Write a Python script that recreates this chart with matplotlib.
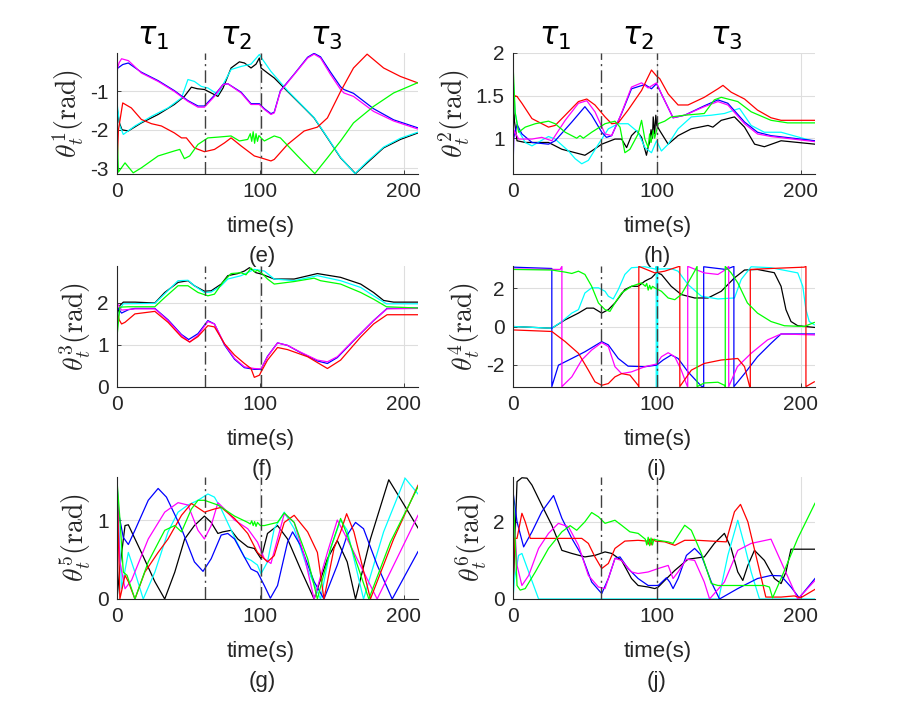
import matplotlib
matplotlib.use('Agg')
import matplotlib.pyplot as plt
import matplotlib.transforms as mtransforms

plt.rcParams['font.family'] = ['Liberation Sans', 'DejaVu Sans']
plt.rcParams['mathtext.fontset'] = 'cm'
plt.rcParams['axes.unicode_minus'] = False

# ---------------- data: (time, angle) pairs ----------------
# (e) theta^1
E_K = [(0,-1.4),(1.5,-1.8),(3.5,-2.0),(7.9,-2.03),(17,-1.82),(28.7,-1.6),(40,-1.34),(47,-1.13),(51.9,-0.89),(56,-0.93),(61,-0.95),(65.7,-1.04),(70.4,-1.13),(74,-0.91),(79.6,-0.39),(85.4,-0.23),(88.9,-0.26),(93.5,-0.39),(97,-0.29),(99.3,-0.13),(100.5,-0.39),(105,-0.52),(109.7,-0.65),(119,-1.0),(130.6,-1.43),(137.5,-1.69),(146.8,-2.21),(156,-2.73),(166.4,-3.14),(174.5,-2.86),(186,-2.47),(197.7,-2.25),(210,-2.08)]
E_C = [(0,-1.3),(2,-1.9),(4.4,-2.12),(12.5,-1.9),(24,-1.65),(35.6,-1.43),(45,-1.17),(49.5,-0.69),(54,-0.74),(58.8,-0.87),(63.4,-0.91),(70.4,-1.08),(74,-0.82),(79.6,-0.43),(86.6,-0.35),(93.5,-0.29),(99.3,-0.04),(101.6,-0.17),(107.4,-0.48),(119,-0.98),(130.6,-1.42),(137.5,-1.68),(146.8,-2.2),(156,-2.72),(166,-3.14),(174.5,-2.83),(186,-2.45),(197.7,-2.22),(210,-2.06)]
E_B = [(0,-1.1),(0.3,-0.4),(4,-0.3),(7.9,-0.26),(17,-0.5),(28.7,-0.72),(40,-0.98),(49.5,-1.24),(56.5,-1.38),(61,-1.38),(68,-1.1),(74,-0.82),(77.3,-0.8),(86.6,-1.02),(93.5,-1.32),(99.3,-1.32),(102.8,-1.45),(107.4,-1.58),(109.7,-1.54),(114,-0.98),(123.6,-0.55),(133,-0.11),(137.5,-0.01),(142,-0.1),(149,-0.5),(156,-0.88),(158.3,-0.95),(165,-1.05),(179,-1.45),(193,-1.74),(210,-1.95)]
E_M = [(0,-0.45),(1.5,-0.25),(3.2,-0.15),(8,-0.2),(17,-0.52),(28.7,-0.74),(40,-1.0),(49.5,-1.26),(56.5,-1.41),(61,-1.41),(68,-1.13),(74,-0.82),(77.3,-0.8),(86.6,-1.04),(93.5,-1.34),(99.3,-1.34),(102.8,-1.47),(107.4,-1.6),(109.7,-1.56),(114,-1.0),(123.6,-0.56),(133,-0.13),(137.5,-0.03),(142,-0.13),(149,-0.56),(156,-0.95),(158.3,-1.04),(165,-1.13),(179,-1.52),(193,-1.77),(210,-1.98)]
E_R = [(0,-3.0),(1,-2.0),(4,-1.3),(10,-1.43),(17,-1.73),(24,-1.84),(31,-1.9),(40,-2.08),(45,-2.21),(48.4,-2.21),(54,-2.47),(61,-2.57),(68,-2.51),(75,-2.34),(79.6,-2.21),(86.6,-2.42),(95.8,-2.68),(100.5,-2.73),(107.4,-2.81),(109.7,-2.77),(119,-2.38),(130.6,-2.03),(139.8,-1.93),(146.8,-1.69),(156,-1.0),(165,-0.39),(174.5,-0.03),(186,-0.39),(197.7,-0.61),(210,-0.78)]
E_G = [(0,-2.0),(1,-3.1),(5.6,-2.86),(11.3,-3.12),(17,-2.99),(28.7,-2.68),(40,-2.55),(43.8,-2.51),(47,-2.75),(50.7,-2.68),(56.5,-2.38),(63.4,-2.21),(70.4,-2.19),(79.6,-2.16),(85.4,-2.29),(91.2,-2.25),(93,-2.1),(94,-2.3),(95,-2.05),(96,-2.35),(97,-2.1),(98,-2.3),(99,-2.15),(100.5,-2.21),(102.8,-2.29),(109.7,-2.16),(114,-2.21),(126,-2.68),(138,-3.14),(146.8,-2.73),(156,-2.29),(165,-1.82),(179,-1.39),(193,-1.04),(210,-0.77)]

# (h) theta^2
H_K = [(0,1.55),(1,1.2),(2.8,0.97),(8.5,0.95),(24.7,0.95),(34,0.87),(43.2,0.83),(50,0.8),(54.7,0.85),(61.7,0.93),(70.9,0.99),(75.5,0.99),(79,0.89),(82.4,1.03),(85.9,1.09),(89.4,1.01),(92.8,0.8),(94,0.9),(95,0.95),(96,1.1),(97,1.0),(97.5,1.25),(98.5,1.05),(99.3,1.27),(100,1.15),(102,1.09),(107.9,0.93),(114.8,1.03),(124,1.11),(135.6,1.15),(139,1.13),(144.8,1.21),(154,1.25),(161,1.13),(168,0.93),(174.8,0.9),(186.4,0.97),(210,0.93)]
H_C = [(0,1.72),(1.5,1.3),(3.9,1.09),(8.5,0.95),(13.2,0.91),(24.7,1.02),(29.3,0.99),(38.6,0.85),(43.2,0.76),(47.8,0.7),(52.4,0.74),(59.4,0.93),(66.3,1.11),(73.2,1.17),(80,1.17),(87,1.07),(91.7,0.89),(96.3,0.83),(99.8,0.97),(103.2,0.85),(107.9,0.93),(114.8,1.11),(124,1.25),(137.9,1.27),(147,1.29),(157.5,1.35),(165.6,1.15),(174.8,1.07),(186.4,1.07),(210,0.96)]
H_B = [(0,0.58),(0.5,1.0),(2.8,1.16),(6.2,1.05),(13.2,0.95),(24.7,0.93),(29.3,0.97),(40.9,1.19),(50,1.37),(54.7,1.27),(61.7,1.07),(65,1.01),(68.6,1.03),(75.5,1.29),(82.4,1.58),(91.7,1.63),(96.3,1.58),(99.8,1.64),(103.2,1.52),(111.3,1.24),(119.4,1.27),(133,1.38),(142.5,1.45),(149.4,1.41),(161,1.19),(170,1.07),(179.4,1.03),(210,0.97)]
H_M = [(0,0.58),(0.5,1.1),(3.9,0.99),(13.2,0.99),(20,1.01),(27,0.97),(36.3,1.21),(45.5,1.41),(51.3,1.44),(57,1.31),(64,1.05),(68.6,1.03),(74.4,1.25),(82.4,1.6),(89.4,1.65),(94,1.59),(99.8,1.65),(103.2,1.52),(111.3,1.24),(119.4,1.27),(133,1.37),(142.5,1.43),(149.4,1.39),(161,1.17),(170,1.05),(179.4,1.02),(210,0.96)]
H_R = [(0,1.2),(1,1.5),(2.8,1.49),(6.2,1.41),(13.2,1.23),(24.7,1.13),(29.3,1.15),(36.3,1.27),(45.5,1.43),(51.3,1.46),(57,1.39),(64,1.25),(68.6,1.17),(73.2,1.18),(80,1.33),(89.4,1.56),(92.8,1.68),(96.3,1.8),(99.8,1.73),(102,1.7),(107.9,1.52),(114.8,1.39),(121.7,1.39),(133,1.48),(142.5,1.58),(146,1.62),(151.7,1.54),(161,1.46),(170,1.33),(179.4,1.24),(186.4,1.21),(210,1.21)]
H_G = [(0,1.88),(1.5,1.3),(3.9,1.07),(8.5,1.13),(15.5,1.17),(24.7,1.2),(29.3,1.17),(36.3,1.07),(44.3,1.0),(46.6,1.03),(48.9,1.0),(54.7,1.07),(64,1.17),(70.9,1.2),(74.4,1.13),(77.8,0.83),(81.3,0.87),(87,1.05),(89.4,1.21),(91.7,0.99),(94,0.89),(95,1.05),(96,0.95),(97.5,1.09),(98.5,1.0),(101,1.17),(105.5,1.2),(110,1.25),(119.4,1.27),(133,1.29),(140,1.45),(144.8,1.48),(156.3,1.43),(165.6,1.31),(179.4,1.21),(191,1.18),(210,1.18)]

# (f) theta^3
F_K = [(0,1.7),(2,1.94),(4.4,2.02),(12.5,2.02),(26.4,2.0),(33.3,2.25),(42.6,2.49),(49.5,2.53),(54,2.41),(61,2.28),(65.7,2.29),(72.7,2.45),(77.3,2.65),(84.3,2.7),(88.9,2.76),(92.4,2.84),(97,2.72),(100.5,2.69),(109.7,2.57),(123.6,2.57),(139.8,2.7),(156,2.61),(170,2.45),(179,2.25),(186,2.06),(193,2.02),(210,2.02)]
F_C = [(0,1.5),(2,1.85),(4.4,1.98),(26.4,1.99),(33.3,2.22),(42.6,2.53),(49.5,2.54),(54,2.41),(61,2.25),(65.7,2.26),(72.7,2.41),(77.3,2.57),(86.6,2.65),(95.8,2.8),(102.8,2.76),(109.7,2.57),(123.6,2.53),(139.8,2.65),(156,2.53),(170,2.37),(179,2.17),(188,1.98),(210,1.98)]
F_B = [(0,1.9),(3.2,1.76),(8,1.84),(12.5,1.87),(26.4,1.87),(35.6,1.6),(45,1.25),(50,1.13),(56.5,1.27),(63.4,1.58),(68,1.5),(75,1.0),(82,0.66),(88.9,0.46),(95.8,0.42),(100.5,0.42),(105,0.73),(112,1.05),(119,0.99),(128,0.82),(139.8,0.62),(146.8,0.56),(153.7,0.7),(165,1.1),(179,1.58),(188.4,1.87),(210,1.88)]
F_M = [(0,2.0),(3.2,1.83),(12.5,1.86),(26.4,1.86),(35.6,1.58),(45,1.23),(50.7,1.07),(56.5,1.23),(63.4,1.56),(68,1.5),(75,1.02),(82,0.68),(88.9,0.48),(95.8,0.44),(100.5,0.43),(105,0.72),(112,1.05),(119,0.99),(128,0.83),(139.8,0.64),(146.8,0.6),(153.7,0.72),(165,1.11),(179,1.58),(188.4,1.86),(210,1.87)]
F_R = [(0,1.8),(1.5,1.6),(3.2,1.5),(5.6,1.54),(12.5,1.74),(26.4,1.8),(35.6,1.54),(45,1.19),(50.7,1.07),(56.5,1.2),(63.4,1.46),(68,1.43),(75,1.03),(82,0.76),(88.9,0.56),(93.5,0.44),(95.8,0.23),(99.3,0.28),(105,0.64),(112,0.94),(119,0.89),(133,0.72),(146.8,0.44),(156,0.64),(170,1.19),(179,1.5),(188.4,1.72),(210,1.72)]
F_G = [(0,1.2),(2,1.9),(7.9,1.91),(26.4,1.91),(33.3,2.13),(42.6,2.41),(49.5,2.41),(56.5,2.25),(63.4,2.17),(68,2.21),(73.8,2.49),(79.6,2.7),(86.6,2.72),(90,2.67),(93.5,2.83),(96,2.74),(98,2.78),(101.6,2.69),(105,2.57),(109.7,2.45),(123.6,2.51),(137.5,2.59),(142,2.53),(156,2.45),(170,2.25),(179,2.09),(188,1.91),(210,1.88)]

# (i) theta^4 (wrapped to [-pi, pi])
I_K = [(0,0.0),(27,-0.09),(36.3,0.35),(45.5,0.7),(51.3,0.96),(56,0.96),(61.7,0.7),(66.3,0.88),(70.9,1.23),(77.8,1.93),(82.4,2.1),(87,2.1),(91.7,2.37),(94,2.46),(96.3,2.54),(99.8,2.81),(103.2,2.72),(110,2.1),(117,1.67),(126.3,1.49),(135.6,1.49),(144.8,1.84),(154,2.54),(161,2.95),(170,2.98),(181.7,2.81),(186.4,2.1),(189.8,0.88),(193.3,0.26),(198,0.04),(210,-0.05)]
I_C = [(0,0.0),(27,-0.09),(34,0.26),(40.9,0.7),(45.5,0.88),(50,1.75),(54.7,2.02),(59.4,2.02),(64,1.84),(66.3,1.58),(69.7,1.44),(73.2,1.93),(77.8,2.72),(82.4,3.07),(91.7,3.12),(99,3.0),(99.6,3.14),(99.6,-3.14),(100.6,-3.14),(100.6,3.14),(101,3.0),(110,3.02),(114.8,2.89),(121.7,2.19),(131,1.58),(142.5,1.44),(154,1.49),(158.7,2.46),(165.6,3.12),(179.4,3.07),(198,2.8),(201.5,2.1),(203.7,0.88),(206,0.26),(209.5,0.09)]
I_B = [(0,-3.14),(0,3.1),(27,3.03),(27,-3.14),(31.6,-2.02),(40.9,-1.67),(50,-1.32),(61.7,-0.79),(66.3,-0.96),(73.2,-1.67),(80,-2.07),(91.7,-2.1),(99.8,-2.02),(104.4,-1.75),(110,-1.49),(114.8,-1.67),(121.7,-2.37),(131,-3.12),(132.6,-3.14),(132.6,3.12),(148,2.98),(153.6,3.14),(153.6,-3.14),(161,-2.46),(170,-1.58),(179.4,-0.88),(186.4,-0.39),(210,-0.39)]
I_M = [(0,3.0),(32.8,2.98),(34,3.14),(34,-3.14),(40.9,-2.63),(47.8,-1.75),(54.7,-1.23),(61.7,-0.84),(66.3,-1.05),(70.9,-2.1),(75.5,-2.46),(82.4,-2.37),(91.7,-2.1),(99.8,-1.96),(103.2,-1.58),(107.9,-1.37),(112.5,-1.58),(117,-2.28),(121.2,-3.12),(121.5,-3.14),(121.5,3.14),(133,2.8),(142.5,2.72),(148,2.98),(150,3.14),(150,-3.14),(156,-2.1),(165.6,-1.4),(177,-0.7),(186.4,-0.39),(210,-0.44)]
I_R = [(0,-0.6),(0.3,-0.18),(27,-0.26),(36.3,-0.79),(45.5,-1.4),(52.4,-2.28),(57,-2.89),(61.7,-3.07),(66.3,-2.98),(70.9,-2.63),(75.5,-2.46),(81.3,-2.54),(87,-3.07),(87.5,-3.14),(87.5,3.14),(98.6,2.8),(105.5,2.89),(114.8,3.12),(116,3.14),(116,-3.14),(124,-2.28),(133,-1.93),(144.8,-1.75),(156.3,-1.67),(161,-2.1),(164.5,-3.12),(165,-3.14),(165,2.98),(179.4,3.03),(202.5,3.1),(203.7,3.14),(203.7,-3.14),(209.5,-2.89)]
I_G = [(0,2.98),(27,2.95),(36.3,2.84),(40.9,2.77),(45.5,2.89),(50,2.72),(54.7,2.1),(59.4,1.23),(64,0.88),(67.4,0.79),(70.9,1.23),(75.5,1.75),(82.4,2.1),(89.4,2.28),(92,2.1),(93,2.25),(94,1.9),(95,2.15),(96,1.95),(97,2.1),(99,2.0),(103.2,1.84),(107.9,1.49),(112.5,1.4),(117,1.67),(121.7,2.28),(126.3,2.89),(128,3.14),(128,-3.14),(133,-2.95),(142.5,-2.91),(147,-3.07),(147.6,-3.14),(147.6,3.14),(151.7,2.8),(156.3,2.28),(163,1.23),(170,0.7),(179.4,0.26),(188.7,0.04),(202.5,0.0),(209.5,0.21)]

# (g) theta^5
G_K = [(0,0.0),(2,0.4),(5.6,0.93),(7.9,0.94),(17,0.59),(26.4,0.22),(33.3,0.0),(40.3,0.34),(47.2,0.76),(54,0.93),(61,1.05),(65.7,0.97),(70.4,0.83),(73.8,0.85),(79.6,0.87),(84.3,0.76),(91.2,0.66),(95.8,0.64),(100.5,0.51),(105,0.83),(112,0.93),(119,0.76),(128,0.38),(137.5,0.0),(146.8,0.51),(153.7,0.74),(160.6,0.47),(166.4,0.0),(176.8,0.76),(189.6,1.51),(197.7,1.27),(210,0.9)]
G_C = [(0,1.45),(3.2,0.13),(7.9,0.59),(12.5,0.34),(18.3,0.0),(26.4,0.34),(35.6,0.85),(42.6,1.1),(49.5,1.19),(56.5,1.25),(63.4,1.33),(68,1.29),(72.7,1.14),(82,0.78),(88.9,0.53),(93.5,0.49),(98,0.43),(100.5,0.32),(105,0.47),(109.7,0.89),(116.7,1.1),(123.6,0.89),(132.9,0.38),(142,0.0),(149,0.64),(156,1.0),(160.6,0.87),(172,0.0),(186,0.85),(201,1.53),(210,1.33)]
G_B = [(0,1.5),(1,1.1),(4.4,0.78),(7.9,0.69),(12.5,0.87),(21.8,1.25),(28.7,1.4),(34.5,1.29),(45,0.89),(54,0.47),(60,0.35),(65.7,0.51),(72.7,0.81),(77.3,0.83),(82,0.76),(88.9,0.53),(93.5,0.38),(98,0.34),(102.8,0.17),(107,0.01),(112,0.17),(119,0.72),(122.5,0.85),(128,0.68),(137.5,0.22),(144.4,0.0),(153.7,0.43),(160.6,0.81),(166.4,0.97),(172,0.89),(181.5,0.43),(192,0.0),(210,0.6)]
G_M = [(0,1.4),(2,0.47),(5.6,0.13),(10.2,0.24),(21.8,0.76),(33.3,1.1),(42.6,1.22),(49.5,1.19),(56.5,0.87),(61,0.76),(65.7,0.93),(70.4,1.22),(75,1.14),(82,1.0),(91.2,0.89),(98,0.72),(102.8,0.51),(107.4,0.45),(112,0.76),(116.7,1.08),(123.6,0.97),(130.6,0.55),(137.5,0.0),(146.8,0.59),(153.7,1.0),(160.6,0.76),(181.5,0.0),(210,1.06)]
G_R = [(0,1.52),(2,0.0),(5.6,0.3),(7.9,0.22),(12.5,0.0),(19.4,0.34),(28.7,0.59),(35.6,0.76),(45,1.06),(51.9,1.21),(61,1.1),(68,1.14),(72.7,1.16),(82,1.02),(91.2,0.83),(98,0.59),(105,0.47),(109.7,0.55),(116.7,0.97),(123.6,1.06),(133,0.85),(139.8,0.59),(144.4,0.0),(151.4,0.64),(156,0.85),(160.2,1.08),(165.3,0.85),(176.8,0.0),(193,0.76),(210,1.44)]
G_G = [(0,1.5),(2,1.02),(4.4,0.34),(7,0.3),(12.5,0.0),(21.8,0.47),(33.3,0.87),(40.3,0.93),(45,0.85),(51.9,1.14),(56.5,1.25),(61,1.25),(70.4,1.19),(82,1.05),(91.2,0.97),(93,0.95),(94,0.99),(95,0.93),(96,0.98),(97,0.92),(98,0.97),(100,0.93),(102.8,0.93),(107.4,0.95),(112,0.97),(116.7,1.09),(123.6,0.97),(133,0.51),(139.8,0.0),(149,0.64),(156,1.02),(160.6,0.81),(175.7,0.0),(190.7,0.72),(210,1.42)]

# (j) theta^6
J_K = [(0,0.1),(2.8,3.04),(6.2,3.14),(9.7,3.13),(13.2,2.95),(20,2.43),(27,1.91),(34,1.26),(40.9,1.18),(50,1.09),(57,1.13),(64,1.22),(68.6,1.18),(75.5,1.0),(82.4,0.53),(87,0.35),(94,0.31),(98.6,0.27),(101,0.31),(105.5,0.48),(112.5,0.74),(121.7,1.03),(133,1.09),(140,1.44),(147,1.7),(151.7,1.31),(156.3,0.7),(159.8,0.48),(163.3,0.87),(167.9,1.26),(174.8,1.0),(181.8,0.53),(186.4,0.4),(189.8,0.7),(193.3,1.29),(210,1.29)]
J_C = [(0,0.0),(1,0.5),(3.9,1.13),(6.2,1.18),(10.9,0.7),(17.8,0.0),(143,0.0),(149.4,1.13),(156.3,2.04),(161,1.39),(165.6,0.7),(171.4,0.0),(210,0.0)]
J_B = [(0,2.78),(2.8,2.0),(7.4,1.35),(13.2,1.74),(20,2.26),(28.2,2.68),(34,2.09),(40.9,1.57),(47.8,1.13),(54.7,0.44),(61.7,0.14),(66.3,0.53),(70.9,1.05),(74.4,1.09),(80,0.79),(87,0.53),(94,0.35),(101,0.35),(106.7,0.55),(109,0.44),(111.3,0.27),(114.8,0.53),(120.6,1.13),(126.3,1.31),(131,1.13),(137.9,0.44),(143.6,0.0),(156.3,0.27),(170,0.53),(179.4,0.61),(186.4,0.6),(193.3,0.31),(199,0.03),(210,0.53)]
J_M = [(0,2.6),(2.8,0.87),(6.2,0.35),(10.9,0.61),(17.8,1.31),(24.7,1.7),(31.6,1.96),(38.6,1.87),(45.5,1.39),(52.4,0.61),(59.4,0.31),(64,0.27),(70.9,1.05),(75.5,1.0),(82.4,0.7),(87,0.66),(94,0.7),(101,0.79),(107.9,0.87),(111.3,0.53),(114.8,0.7),(120.6,1.03),(126.3,1.0),(133,0.44),(136.7,0.0),(147,0.44),(156.3,1.26),(165.6,1.44),(179.4,1.55),(198,0.0),(210,0.48)]
J_R = [(0,0.2),(1,1.57),(2.8,1.57),(6.2,2.22),(8.5,2.0),(12,1.57),(47.8,1.57),(52.4,1.44),(57,1.09),(61.7,0.79),(66.3,0.92),(70.9,1.31),(77.8,1.5),(87,1.52),(93,1.5),(94,1.42),(95,1.55),(96,1.4),(97,1.55),(99,1.5),(105.5,1.48),(112.5,1.39),(119.4,1.52),(128.6,1.52),(137.9,1.5),(148.3,1.48),(149.4,1.65),(154,2.26),(158.2,2.45),(163.3,2.0),(170,0.96),(175.8,0.05),(186.4,0.05),(195.6,0.08),(200,0.03),(210,0.25)]
J_G = [(0,2.9),(2.8,0.35),(5,0.23),(8.5,0.27),(15.5,0.7),(24.7,1.31),(34,1.74),(39.7,1.9),(44.3,1.78),(50,2.0),(54.7,2.24),(59.4,2.13),(64,1.96),(70.9,2.04),(75.5,1.91),(81.3,1.74),(87,1.7),(92,1.55),(93,1.4),(94,1.6),(95,1.38),(96,1.58),(97,1.4),(98,1.55),(101,1.52),(107.9,1.48),(111.3,1.44),(119.4,1.91),(124,1.78),(131,1.18),(137.9,0.4),(142.5,0.35),(174.8,0.35),(178.3,0.31),(180.5,0.03),(186.4,0.53),(198,1.57),(210,2.48)]

PHASE_T = [61.5, 100.2]
TAU_LABELS = [r'$\tau_1$', r'$\tau_2$', r'$\tau_3$']
TAU_T_LEFT = [25, 83, 146]
TAU_T_RIGHT = [29, 87, 148]
X_TICKS = [0, 100, 200]

PANELS = [
    ('e', [E_K, E_C, E_B, E_M, E_R, E_G], 1, (-3.15, 0.0), [-3, -2, -1], ['-3', '-2', '-1']),
    ('h', [H_K, H_C, H_B, H_M, H_R, H_G], 2, (0.58, 2.0), [1, 1.5, 2], ['1', '1.5', '2']),
    ('f', [F_K, F_C, F_B, F_M, F_R, F_G], 3, (0.0, 2.88), [0, 1, 2], ['0', '1', '2']),
    ('i', [I_K, I_C, I_B, I_M, I_R, I_G], 4, (-3.16, 3.16), [-2, 0, 2], ['-2', '0', '2']),
    ('g', [G_K, G_C, G_B, G_M, G_R, G_G], 5, (0.0, 1.545), [0, 1], ['0', '1']),
    ('j', [J_K, J_C, J_B, J_M, J_R, J_G], 6, (0.0, 3.16), [0, 2], ['0', '2']),
]
COLORS = ['k', (0, 1, 1), (0, 0, 1), (1, 0, 1), (1, 0, 0), (0, 1, 0)]

# ---------------- layout (pixels) ----------------
W, H = 900, 711
fig = plt.figure(figsize=(9, 7.11), dpi=100)
fig.patch.set_facecolor('white')
COL_X = [117, 513]
COL_W = [301, 302]
ROW_TOP = [53, 266, 477]
ROW_H = [121, 121, 122]

for idx, (key, series, n, ylim, yt, ytl) in enumerate(PANELS):
    r, c = idx // 2, idx % 2
    ax = fig.add_axes([COL_X[c] / W, 1 - (ROW_TOP[r] + ROW_H[r]) / H, COL_W[c] / W, ROW_H[r] / H])
    for s, col in zip(series, COLORS):
        ax.plot([p[0] for p in s], [p[1] for p in s], color=col, lw=0.9, solid_joinstyle='round')
    for t in PHASE_T:
        ax.axvline(t, color='0.25', lw=1.0, linestyle=(0, (9, 3, 1.5, 3)), zorder=5)
    ax.set_xlim(0, 210)
    ax.set_ylim(*ylim)
    ax.set_xticks(X_TICKS)
    ax.set_xticklabels([str(v) for v in X_TICKS])
    ax.set_yticks(yt)
    ax.set_yticklabels(ytl)
    ax.grid(True, color='0.87', lw=0.8)
    ax.set_axisbelow(True)
    for sp in ['top', 'right']:
        ax.spines[sp].set_visible(False)
    for sp in ['left', 'bottom']:
        ax.spines[sp].set_color('0.15')
        ax.spines[sp].set_linewidth(0.8)
    ax.tick_params(direction='in', length=3, width=0.6, color='0.15', labelsize=15,
                   labelcolor='0.15', pad=6)
    ax.set_xlabel('time(s)', fontsize=16, color='0.15')
    ax.xaxis.set_label_coords(0.478, -42.0 / ROW_H[r])
    ax.set_ylabel(r'$\theta_t^{%d}(\mathrm{rad})$' % n, fontsize=20, color='0.15', labelpad=3)
    # subfigure letter
    cx = 262 if c == 0 else 657
    cy = ROW_TOP[r] + ROW_H[r] + 83
    fig.text(cx / W, 1 - cy / H, '(%s)' % key, fontsize=16, color='0.15', ha='center', va='center')
    if r == 0:
        trans = mtransforms.blended_transform_factory(ax.transData, ax.transAxes)
        tts = TAU_T_LEFT if c == 0 else TAU_T_RIGHT
        for lab, tt in zip(TAU_LABELS, tts):
            ax.text(tt, 1.13, lab, transform=trans, fontsize=22, ha='center', va='center',
                    math_fontfamily='dejavusans', color='k')

fig.savefig('out.png', dpi=100, facecolor='white')
